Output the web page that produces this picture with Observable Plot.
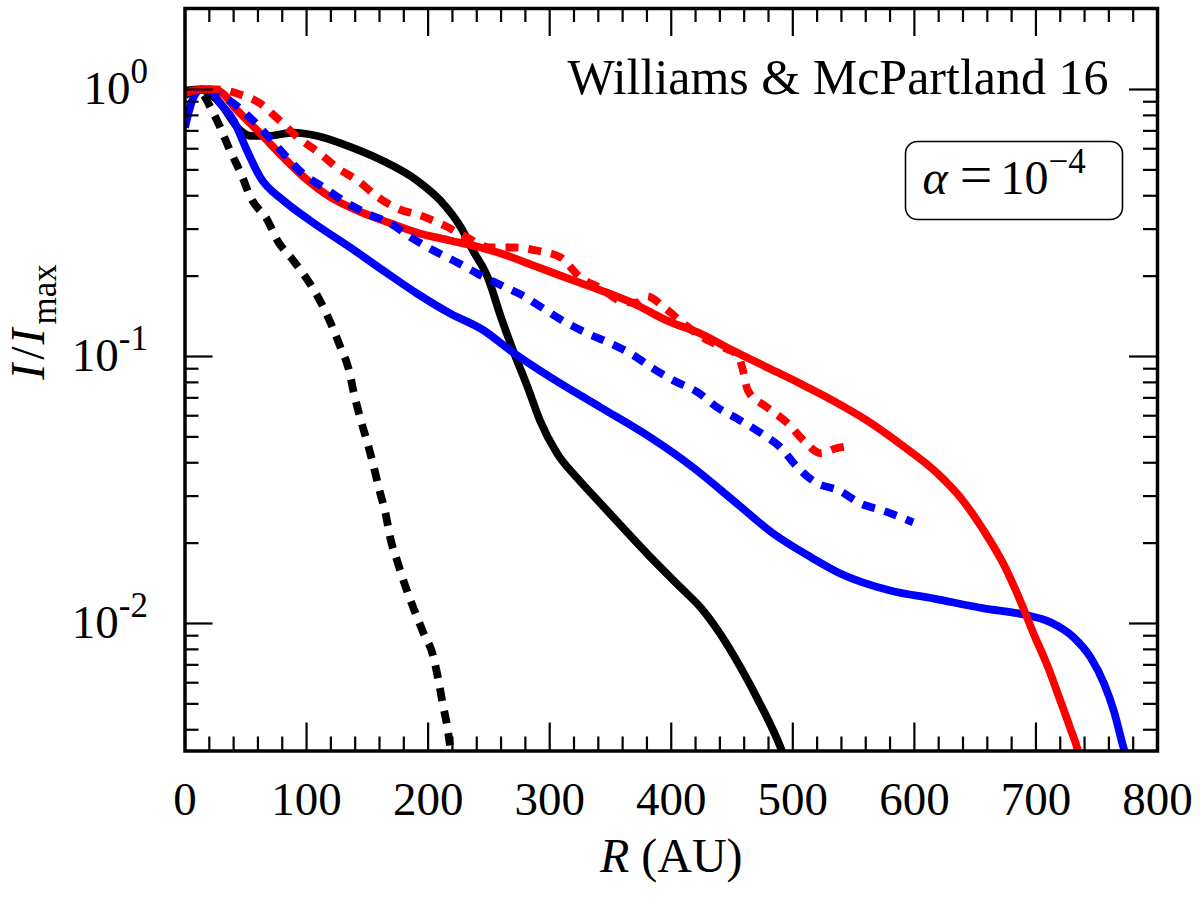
<!DOCTYPE html>
<html><head><meta charset="utf-8">
<script src="https://cdn.jsdelivr.net/npm/d3@7"></script>
<script src="https://cdn.jsdelivr.net/npm/@observablehq/plot@0.6"></script>
<style>html,body{margin:0;padding:0;background:#fff}svg{display:block}svg text{font-family:"Liberation Serif","DejaVu Serif",serif !important}</style>
</head><body><div id="chart"></div>
<script>
// ---------- data ----------
const blackSolidR = [0, 13, 27, 46, 54, 68, 89, 109, 136, 163, 191, 210, 227, 237, 249, 260, 270, 282, 292, 306, 323, 342, 380, 408, 424, 440, 457, 473, 490, 494];
const blackSolidI = [0.99, 1.0, 0.91, 0.70, 0.67, 0.67, 0.69, 0.67, 0.61, 0.54, 0.456, 0.384, 0.304, 0.249, 0.198, 0.140, 0.105, 0.0765, 0.0576, 0.0434, 0.0349, 0.0281, 0.0183, 0.0136, 0.0115, 0.00918, 0.00685, 0.00501, 0.00343, 0.00307];

const blackDotR = [0, 10, 15, 21, 29, 37, 46, 54, 68, 76, 89, 101, 111, 120, 128, 134.5, 139, 144, 150, 155, 160, 165, 169, 175, 181, 188, 196, 204, 208.5, 212, 216, 218];
const blackDotI = [0.95, 1.0, 0.96, 0.856, 0.721, 0.591, 0.485, 0.394, 0.323, 0.272, 0.229, 0.193, 0.162, 0.133, 0.108, 0.0902, 0.0727, 0.0591, 0.0476, 0.0391, 0.0315, 0.0258, 0.0208, 0.0169, 0.0139, 0.0114, 0.00925, 0.00759, 0.00612, 0.00501, 0.00404, 0.00349];

const blueSolidR = [0, 6, 13, 21, 27, 40, 51, 62, 81, 103, 136, 163, 191, 218, 246, 268, 301, 342, 383, 418, 451, 484, 515, 539, 580, 616, 657, 690, 712, 731, 745, 756, 764, 772, 775];
const blueSolidI = [0.72, 0.91, 1.0, 1.0, 0.91, 0.765, 0.591, 0.468, 0.384, 0.323, 0.256, 0.210, 0.172, 0.145, 0.125, 0.105, 0.0834, 0.0644, 0.0497, 0.0384, 0.0289, 0.0217, 0.0177, 0.0154, 0.0133, 0.0124, 0.0114, 0.0108, 0.0101, 0.00887, 0.00746, 0.00596, 0.00472, 0.00343, 0.00307];

const blueDotR = [0, 13, 40, 56, 70, 84, 97, 114, 134, 150, 169, 186, 204, 224, 240, 260, 278, 295, 311, 331, 350, 369, 385, 402, 422, 438, 454, 473, 490, 504, 519, 538, 556, 574, 599];
const blueDotI = [0.97, 1.0, 0.886, 0.765, 0.655, 0.556, 0.484, 0.430, 0.374, 0.343, 0.315, 0.279, 0.250, 0.225, 0.205, 0.185, 0.169, 0.151, 0.136, 0.122, 0.112, 0.101, 0.0902, 0.0813, 0.0733, 0.0644, 0.0586, 0.0519, 0.0456, 0.0384, 0.0337, 0.0315, 0.0281, 0.0265, 0.0239];

const redSolidR = [0, 15, 27, 43, 62, 81, 101, 120, 142, 163, 191, 218, 246, 260, 287, 315, 342, 369, 397, 424, 451, 479, 506, 533, 561, 588, 619, 638, 657, 673, 687, 698, 710, 720, 728, 735, 737];
const redSolidI = [0.97, 1.0, 0.99, 0.834, 0.684, 0.556, 0.456, 0.394, 0.352, 0.323, 0.291, 0.272, 0.254, 0.243, 0.219, 0.196, 0.177, 0.158, 0.136, 0.122, 0.105, 0.0910, 0.0792, 0.0684, 0.0576, 0.0472, 0.0365, 0.0296, 0.0223, 0.0168, 0.0122, 0.00918, 0.00685, 0.00515, 0.00408, 0.00329, 0.00302];

const redDotR = [0, 13, 27, 43, 62, 76, 93, 111, 125, 142, 159, 175, 194, 213, 232, 251, 272, 290, 309, 325, 342, 358, 371, 380, 394, 410, 427, 443, 455, 459, 463, 479, 496, 509, 523, 535, 544];
const redDotI = [0.97, 1.0, 1.0, 0.966, 0.886, 0.779, 0.661, 0.576, 0.510, 0.456, 0.394, 0.358, 0.337, 0.310, 0.279, 0.256, 0.256, 0.249, 0.235, 0.198, 0.180, 0.162, 0.159, 0.168, 0.153, 0.133, 0.117, 0.108, 0.101, 0.0887, 0.0746, 0.0644, 0.0561, 0.0484, 0.0434, 0.0452, 0.0460];

const xMajor = [0, 100, 200, 300, 400, 500, 600, 700, 800];
const xTickLabels = ["0", "100", "200", "300", "400", "500", "600", "700", "800"];
const xMinor = [20, 40, 60, 80, 120, 140, 160, 180, 220, 240, 260, 280, 320, 340, 360, 380, 420, 440, 460, 480, 520, 540, 560, 580, 620, 640, 660, 680, 720, 740, 760, 780];
const yMajor = [1, 0.1, 0.01];
const yTickLabels = ["10^0", "10^-1", "10^-2"];
const yMinor = [0.004, 0.005, 0.006, 0.007, 0.008, 0.009, 0.02, 0.03, 0.04, 0.05, 0.06, 0.07, 0.08, 0.09, 0.2, 0.3, 0.4, 0.5, 0.6, 0.7, 0.8, 0.9];
const xLabel = "R (AU)";
const yLabel = "I/I_max";
const refLabel = "Williams & McPartland 16";
const alphaLabel = "α=10^−4";

// ---------- build tables ----------
const toRows = (R, I) => R.map((r, i) => ({R: r, I: I[i]}));
const blackSolid = toRows(blackSolidR, blackSolidI);
const blackDot = toRows(blackDotR, blackDotI);
const blueSolid = toRows(blueSolidR, blueSolidI);
const blueDot = toRows(blueDotR, blueDotI);
const redSolid = toRows(redSolidR, redSolidI);
const redDot = toRows(redDotR, redDotI);

const W = 1200, H = 900;
const mL = 184.5, mR = 43, mT = 8, mB = 149.5;
const PW = W - mL - mR, PH = H - mT - mB;
const MAJ = 28, MIN = 14;
const FONT = "'Liberation Serif', 'DejaVu Serif', serif";

const solid = {strokeWidth: 7.8, strokeLinecap: "butt", strokeLinejoin: "round", curve: "monotone-x", clip: true};
const dotted = {strokeWidth: 7.8, strokeLinecap: "butt", strokeLinejoin: "miter", strokeDasharray: "13,10", curve: "monotone-x", clip: true};

const svg = Plot.plot({
  width: W, height: H,
  marginLeft: mL, marginRight: mR, marginTop: mT, marginBottom: mB,
  style: {fontFamily: FONT, background: "#fff", color: "#000"},
  x: {domain: [0, 800], axis: null},
  y: {type: "log", domain: [0.00333, 2.011], axis: null},
  marks: [
    Plot.line(blackSolid, {x: "R", y: "I", stroke: "#000", ...solid}),
    Plot.line(blueSolid, {x: "R", y: "I", stroke: "#0000ff", ...solid}),
    Plot.line(redSolid, {x: "R", y: "I", stroke: "#ff0000", ...solid}),
    Plot.line(blackDot, {x: "R", y: "I", stroke: "#000", ...dotted}),
    Plot.line(blueDot, {x: "R", y: "I", stroke: "#0000ff", ...dotted}),
    Plot.line(redDot, {x: "R", y: "I", stroke: "#ff0000", ...dotted}),
    // ticks (inward, all four sides)
    Plot.tickX(xMajor, {x: d => d, insetTop: PH - MAJ, strokeWidth: 2.2}),
    Plot.tickX(xMajor, {x: d => d, insetBottom: PH - MAJ, strokeWidth: 2.2}),
    Plot.tickX(xMinor, {x: d => d, insetTop: PH - MIN, strokeWidth: 2.2}),
    Plot.tickX(xMinor, {x: d => d, insetBottom: PH - MIN, strokeWidth: 2.2}),
    Plot.tickY(yMajor, {y: d => d, insetRight: PW - MAJ, strokeWidth: 2.2}),
    Plot.tickY(yMajor, {y: d => d, insetLeft: PW - MAJ, strokeWidth: 2.2}),
    Plot.tickY(yMinor, {y: d => d, insetRight: PW - MIN, strokeWidth: 2.2}),
    Plot.tickY(yMinor, {y: d => d, insetLeft: PW - MIN, strokeWidth: 2.2}),
    Plot.frame({stroke: "#000", strokeWidth: 3.5}),
    // tick labels
    Plot.text(xMajor, {x: d => d, text: (d, i) => xTickLabels[i], frameAnchor: "bottom", lineAnchor: "middle", dy: 49, fontSize: 47, fill: "#000"}),
    Plot.text(yMajor, {y: d => d, text: (d, i) => yTickLabels[i], frameAnchor: "left", textAnchor: "end", lineAnchor: "middle", dx: -37, dy: -1, fontSize: 47, fill: "#000"}),
    // axis labels
    Plot.text([xLabel], {text: d => d, frameAnchor: "bottom", lineAnchor: "middle", dy: 106, fontSize: 48, fill: "#000"}),
    Plot.text([yLabel], {text: d => d, frameAnchor: "left", lineAnchor: "middle", rotate: -90, dx: -156, fontSize: 48, fill: "#000"}),
    // annotations
    Plot.text([refLabel], {text: d => d, frameAnchor: "top-right", textAnchor: "end", lineAnchor: "middle", dx: -49, dy: 69, fontSize: 50, fill: "#000"}),
    Plot.frame({insetLeft: 905 - mL, insetRight: W - mR - 1122, insetTop: 141 - mT, insetBottom: (H - mB) - 219, rx: 12, stroke: "#000", strokeWidth: 1.6, fill: "#fff"}),
    Plot.text([alphaLabel], {text: d => d, frameAnchor: "top-left", textAnchor: "start", lineAnchor: "middle", dx: 922 - mL, dy: 170, fontSize: 48, fill: "#000"})
  ]
});

// ---------- rich text (italics, super/subscripts) ----------
d3.select(svg).style("font-family", FONT);
d3.select(svg).selectAll("text").each(function () {
  const el = d3.select(this);
  el.style("font-family", FONT);
  const t = el.text();
  let m;
  if (t === yLabel) {
    el.text(null);
    el.append("tspan").attr("font-style", "italic").text("I");
    el.append("tspan").attr("dx", 4).text("/");
    el.append("tspan").attr("dx", 2).attr("font-style", "italic").text("I");
    el.append("tspan").attr("dx", 4).attr("dy", 12).attr("font-size", 35).text("max");
  } else if (t === xLabel) {
    el.text(null);
    el.append("tspan").attr("font-style", "italic").text("R");
    el.append("tspan").text(" (AU)");
  } else if (t === alphaLabel) {
    el.text(null);
    el.append("tspan").attr("font-style", "italic").text("α");
    el.append("tspan").attr("dx", 12).attr("font-size", 58).text("=");
    el.append("tspan").attr("dx", 8).text("10");
    el.append("tspan").attr("dy", -21).attr("font-size", 35).text("−4");
  } else if ((m = /^10\^(.+)$/.exec(t))) {
    el.text(null);
    el.append("tspan").text("10");
    el.append("tspan").attr("dy", -21).attr("font-size", 35).text(m[1]);
  }
});

document.getElementById("chart").append(svg);
</script></body></html>
